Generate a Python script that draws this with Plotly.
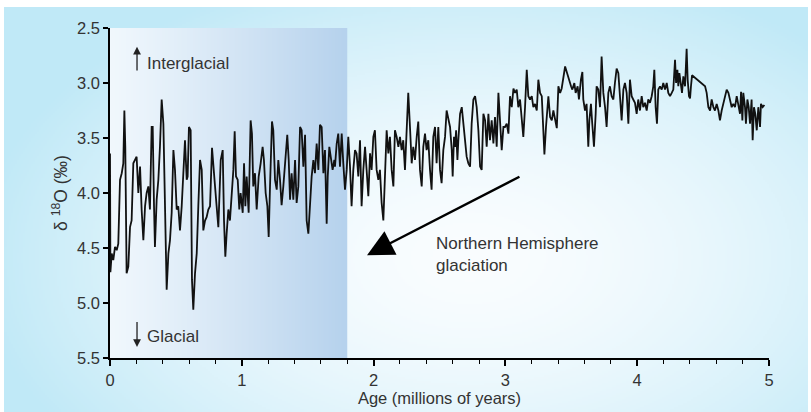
import zlib, struct, base64
import numpy as np
import plotly.graph_objects as go

# ---- data (age in Myr, delta18O in permil) ----
age = [
    0.000, 0.003, 0.013, 0.025, 0.038, 0.051, 0.063, 0.076, 0.089, 0.101, 0.109, 0.116, 0.126, 0.139, 0.152, 0.164,
    0.177, 0.190, 0.202, 0.215, 0.228, 0.240, 0.253, 0.266, 0.278, 0.291, 0.303, 0.316, 0.324, 0.334, 0.341, 0.354,
    0.367, 0.379, 0.392, 0.405, 0.417, 0.430, 0.443, 0.455, 0.468, 0.481, 0.493, 0.506, 0.518, 0.531, 0.544, 0.556,
    0.569, 0.582, 0.589, 0.599, 0.612, 0.622, 0.632, 0.645, 0.658, 0.670, 0.683, 0.696, 0.708, 0.721, 0.733, 0.746,
    0.759, 0.774, 0.784, 0.797, 0.809, 0.822, 0.840, 0.855, 0.865, 0.875, 0.885, 0.898, 0.910, 0.923, 0.936, 0.946,
    0.956, 0.969, 0.981, 0.991, 1.007, 1.017, 1.027, 1.037, 1.052, 1.067, 1.077, 1.087, 1.100, 1.113, 1.128, 1.143,
    1.158, 1.168, 1.181, 1.194, 1.204, 1.214, 1.229, 1.239, 1.252, 1.265, 1.277, 1.290, 1.302, 1.315, 1.330, 1.345,
    1.356, 1.366, 1.378, 1.391, 1.404, 1.416, 1.429, 1.442, 1.454, 1.467, 1.480, 1.492, 1.505, 1.517, 1.530, 1.543,
    1.555, 1.568, 1.581, 1.593, 1.606, 1.619, 1.631, 1.644, 1.652, 1.664, 1.677, 1.689, 1.702,
    1.707, 1.720, 1.732, 1.745, 1.758, 1.770, 1.783, 1.796, 1.808, 1.821, 1.833, 1.846, 1.859, 1.871, 1.884, 1.897,
    1.909, 1.922, 1.935, 1.947, 1.960, 1.973, 1.985, 1.998, 2.010, 2.023, 2.036, 2.048, 2.061, 2.074, 2.086, 2.099,
    2.112, 2.124, 2.137, 2.150, 2.162, 2.175, 2.188, 2.200, 2.213, 2.225, 2.238, 2.251, 2.263, 2.276, 2.289, 2.301,
    2.314, 2.327, 2.339, 2.352, 2.365, 2.377, 2.390, 2.402, 2.415, 2.428, 2.440, 2.453, 2.466, 2.478, 2.491, 2.504,
    2.516, 2.529, 2.542, 2.554, 2.567,
    2.580, 2.593, 2.600, 2.610, 2.618, 2.626, 2.636, 2.643, 2.656, 2.669, 2.681, 2.694, 2.706, 2.719, 2.732, 2.744,
    2.757, 2.770, 2.782, 2.795, 2.808, 2.820, 2.833, 2.846, 2.858, 2.871, 2.883, 2.896, 2.909, 2.921, 2.934, 2.947,
    2.959, 2.972, 2.985, 2.997, 3.010, 3.023, 3.035, 3.048, 3.061, 3.073, 3.086, 3.098, 3.111, 3.124, 3.136, 3.149,
    3.162, 3.174, 3.187, 3.200, 3.212, 3.225, 3.238, 3.250, 3.263, 3.276, 3.288, 3.296, 3.308, 3.326, 3.339, 3.352,
    3.364, 3.377, 3.390, 3.402, 3.415, 3.427, 3.440, 3.453,
    3.498, 3.508, 3.523, 3.533, 3.548, 3.558, 3.573, 3.584, 3.591, 3.604, 3.616, 3.629, 3.637, 3.649, 3.659, 3.672,
    3.685, 3.692, 3.705, 3.718, 3.730, 3.743, 3.756, 3.768, 3.781, 3.793, 3.806, 3.819, 3.831, 3.844, 3.857, 3.869,
    3.882, 3.895, 3.907, 3.920, 3.933, 3.945, 3.958, 3.970, 3.983, 3.996, 4.008, 4.021, 4.034, 4.046, 4.059, 4.072,
    4.084, 4.097, 4.110, 4.122, 4.130, 4.140, 4.150, 4.160, 4.173, 4.186, 4.198, 4.211, 4.224, 4.236, 4.249,
    4.262, 4.274, 4.287, 4.295, 4.305, 4.312, 4.320, 4.330, 4.340, 4.350, 4.363, 4.375, 4.383, 4.393, 4.401, 4.408,
    4.416, 4.515, 4.527, 4.540, 4.553, 4.565, 4.578, 4.590, 4.603, 4.616, 4.628, 4.641, 4.654, 4.666, 4.679, 4.692,
    4.704, 4.717, 4.729, 4.742, 4.755, 4.767, 4.780, 4.788, 4.798, 4.805, 4.818, 4.825, 4.836, 4.846, 4.856, 4.868,
    4.876, 4.886, 4.896, 4.907, 4.919, 4.932, 4.939, 4.952, 4.965,
]
d18o = [
    3.64, 4.72, 4.55, 4.61, 4.49, 4.52, 4.46, 3.88, 3.82, 3.73, 3.25, 3.58, 4.73, 4.67, 4.31, 4.25,
    3.73, 3.70, 3.67, 4.00, 3.76, 4.15, 4.43, 4.12, 4.00, 3.94, 4.15, 3.40, 3.40, 4.12, 4.49, 4.06,
    3.88, 3.58, 3.15, 3.37, 4.25, 4.88, 4.55, 4.43, 4.18, 3.61, 3.79, 4.15, 4.12, 4.34, 4.12, 3.79,
    3.52, 3.88, 3.85, 3.40, 3.43, 4.79, 5.06, 4.73, 4.55, 4.12, 3.70, 3.79, 4.34, 4.25, 4.22, 4.15,
    4.12, 3.59, 3.79, 3.94, 4.12, 4.31, 3.70, 3.61, 4.25, 4.58, 4.37, 4.15, 4.25, 3.97, 3.79, 3.44,
    3.85, 3.88, 4.15, 4.00, 4.18, 3.73, 4.12, 3.85, 4.18, 3.34, 3.46, 3.94, 3.82, 4.15, 3.85, 3.73,
    3.58, 3.70, 4.00, 4.12, 4.40, 3.94, 3.35, 3.43, 3.88, 3.97, 3.70, 3.88, 4.11, 3.94, 3.70, 3.47,
    3.70, 4.06, 3.82, 4.06, 3.70, 4.09, 3.94, 3.40, 3.43, 3.76, 3.47, 4.25, 4.37, 4.09, 3.85, 3.70,
    3.82, 3.55, 3.79, 3.38, 3.40, 3.82, 3.61, 4.28, 3.85, 3.58, 3.70, 3.79, 3.70,
    3.76, 3.55, 3.46, 3.76, 3.46, 3.73, 3.97, 3.79, 3.49, 3.76, 4.12, 3.79, 3.61, 3.64, 3.85, 3.52,
    4.12, 3.79, 3.58, 3.79, 4.03, 3.64, 3.79, 3.49, 3.43, 3.79, 3.88, 3.79, 4.09, 4.25, 3.82, 3.43,
    3.64, 3.49, 3.79, 3.94, 3.43, 3.49, 3.58, 3.49, 3.61, 3.52, 3.79, 3.34, 3.09, 3.40, 3.73, 3.58,
    3.70, 3.49, 3.35, 3.79, 3.94, 3.58, 3.46, 3.61, 3.52, 3.79, 3.97, 3.49, 3.40, 3.73, 3.40, 3.79,
    3.91, 3.61, 3.49, 3.25, 3.34,
    3.40, 3.61, 3.85, 3.49, 3.58, 3.43, 3.70, 3.52, 3.28, 3.22, 3.37, 3.52, 3.67, 3.73, 3.76, 3.37,
    3.15, 3.12, 3.22, 3.43, 3.76, 3.79, 3.28, 3.34, 3.58, 3.28, 3.52, 3.34, 3.55, 3.31, 3.58, 3.09,
    3.37, 3.61, 3.40, 3.40, 3.37, 3.46, 3.12, 3.22, 3.05, 3.09, 3.06, 3.22, 3.15, 3.34, 3.49, 3.22,
    2.88, 3.12, 3.15, 3.12, 3.22, 3.19, 3.25, 2.97, 3.09, 3.12, 3.40, 3.65, 3.40, 3.12, 3.31, 3.34,
    3.25, 3.34, 3.41, 3.03, 3.09, 3.05, 2.94, 2.85,
    3.03, 3.06, 3.00, 3.09, 3.03, 3.15, 2.97, 2.90, 3.15, 3.25, 3.19, 3.58, 3.34, 3.19, 3.37, 3.58,
    3.28, 3.03, 3.06, 3.22, 2.76, 3.09, 3.22, 3.40, 3.09, 3.03, 3.12, 3.15, 3.00, 2.87, 2.91, 3.09,
    3.34, 3.06, 3.00, 3.09, 3.37, 2.97, 3.12, 3.15, 3.18, 3.28, 3.15, 3.25, 3.12, 3.22, 3.18, 3.25,
    3.15, 3.18, 3.12, 3.03, 2.88, 3.22, 3.37, 3.06, 3.03, 3.06, 3.00, 3.06, 3.00, 3.09, 3.12,
    3.09, 3.06, 2.79, 3.00, 2.88, 3.03, 2.91, 3.00, 3.09, 2.94, 3.03, 2.69, 2.97, 3.12, 3.14, 3.03,
    2.93, 3.03, 3.09, 3.22, 3.25, 3.15, 3.22, 3.25, 3.19, 3.25, 3.34, 3.25, 3.19, 3.12, 3.06, 3.09,
    3.15, 3.22, 3.19, 3.22, 3.12, 3.19, 3.28, 3.08, 3.34, 3.09, 3.22, 3.37, 3.15, 3.22, 3.37, 3.15,
    3.52, 3.22, 3.28, 3.43, 3.22, 3.40, 3.19, 3.22, 3.20,
]

x_ticks = [0, 1, 2, 3, 4, 5]
y_ticks = [2.5, 3.0, 3.5, 4.0, 4.5, 5.0, 5.5]
shade_end = 1.8  # end of shaded (Pleistocene) band, Myr


# ---- small PNG writer for gradient backgrounds ----
def png_uri(arr):
    h, w, _ = arr.shape
    raw = b"".join(b"\x00" + arr[r].tobytes() for r in range(h))

    def chunk(tag, data):
        c = struct.pack(">I", len(data)) + tag + data
        return c + struct.pack(">I", zlib.crc32(tag + data) & 0xFFFFFFFF)

    png = (b"\x89PNG\r\n\x1a\n"
           + chunk(b"IHDR", struct.pack(">IIBBBBB", w, h, 8, 2, 0, 0, 0))
           + chunk(b"IDAT", zlib.compress(raw, 9))
           + chunk(b"IEND", b""))
    return "data:image/png;base64," + base64.b64encode(png).decode()


# card background: whitish centre fading to light cyan at the edges
W, H = 400, 200
u = np.linspace(0, 1, W)[None, :]
v = np.linspace(0, 1, H)[:, None]
r = np.sqrt(((u - 0.58) / 0.62) ** 2 + ((v - 0.62) / 0.75) ** 2)
t = np.clip(r, 0, 1) ** 1.6
white = np.array([250, 253, 255], float)
edge = np.array([192, 233, 247], float)
card = (white[None, None, :] * (1 - t[..., None]) + edge[None, None, :] * t[..., None])
card = card.astype(np.uint8)

# shaded band: pale at left to mid blue at right
sw = 200
s = np.linspace(0, 1, sw)[None, :] ** 1.1
left = np.array([241, 248, 253], float)
right = np.array([182, 210, 237], float)
band = left[None, None, :] * (1 - s[..., None]) + right[None, None, :] * s[..., None]
band = np.repeat(band, 4, axis=0).astype(np.uint8)

L, R, T, B = 110, 42, 28, 54
FW, FH = 811, 412
pw, ph = FW - L - R, FH - T - B

fig = go.Figure()
fig.add_trace(go.Scatter(x=age, y=d18o, mode="lines",
                         line=dict(color="#111111", width=1.8),
                         hoverinfo="skip", showlegend=False))

font = "Liberation Sans, Arial, Helvetica, sans-serif"
txt = "#333333"

fig.update_layout(
    width=FW, height=FH,
    margin=dict(l=L, r=R, t=T, b=B, autoexpand=False),
    paper_bgcolor="white",
    plot_bgcolor="rgba(0,0,0,0)",
    font=dict(family=font, size=17, color=txt),
    images=[
        dict(source=png_uri(card), xref="paper", yref="paper",
             x=(4 - L) / pw, y=(FH - B - 7) / ph,
             sizex=804 / pw, sizey=405 / ph,
             xanchor="left", yanchor="top", sizing="stretch", layer="below"),
        dict(source=png_uri(band), xref="x", yref="paper",
             x=0, y=1, sizex=shade_end, sizey=1,
             xanchor="left", yanchor="top", sizing="stretch", layer="below"),
    ],
    xaxis=dict(range=[0, 5], tickvals=x_ticks, showgrid=False, zeroline=False,
               showline=True, linecolor="black", linewidth=1.5,
               ticks="outside", ticklen=6, tickwidth=1.5, tickcolor="black",
               minor=dict(dtick=0.2, ticks="outside", ticklen=4, tickwidth=1, tickcolor="black"),
               tickfont=dict(size=16.5, color=txt),
               title=dict(text="Age (millions of years)", font=dict(size=16.5, color=txt), standoff=2)),
    yaxis=dict(range=[5.5, 2.5], tickvals=y_ticks, tickformat=".1f", showgrid=False, zeroline=False,
               showline=True, linecolor="black", linewidth=1.5,
               ticks="outside", ticklen=5, tickwidth=1.5, tickcolor="black",
               tickfont=dict(size=16.5, color=txt),
               title=dict(text="δ <sup>18</sup>O (‰)", font=dict(size=17.5, color=txt), standoff=5)),
)

# Interglacial / Glacial labels with small arrows
fig.add_annotation(x=0.205, y=2.67, ax=0.205, ay=2.90, xref="x", yref="y", axref="x", ayref="y",
                   text="", showarrow=True, arrowhead=2, arrowsize=1.2, arrowwidth=1.3, arrowcolor="#222")
fig.add_annotation(x=0.262, y=2.82, xref="x", yref="y", text="Interglacial", showarrow=False,
                   xanchor="left", yanchor="middle", font=dict(size=17, color=txt))
fig.add_annotation(x=0.205, y=5.40, ax=0.205, ay=5.16, xref="x", yref="y", axref="x", ayref="y",
                   text="", showarrow=True, arrowhead=2, arrowsize=1.2, arrowwidth=1.3, arrowcolor="#222")
fig.add_annotation(x=0.262, y=5.30, xref="x", yref="y", text="Glacial", showarrow=False,
                   xanchor="left", yanchor="middle", font=dict(size=17, color=txt))

# Northern Hemisphere glaciation arrow and label
fig.add_annotation(x=1.95, y=4.565, ax=3.118, ay=3.845, xref="x", yref="y", axref="x", ayref="y",
                   text="", showarrow=True, arrowhead=2, arrowsize=2.2, arrowwidth=2.4, arrowcolor="black")
fig.add_annotation(x=2.455, y=4.555, xref="x", yref="y",
                   text="Northern Hemisphere<br>glaciation", showarrow=False, align="left",
                   xanchor="left", yanchor="middle", font=dict(size=17, color=txt))

fig.write_html("out.html")
